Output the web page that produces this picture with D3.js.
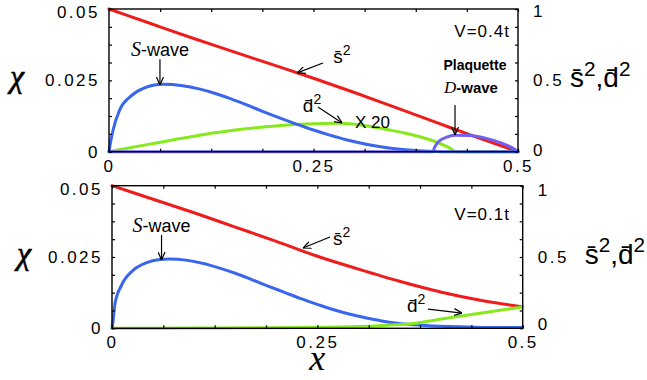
<!DOCTYPE html>
<html>
<head>
<meta charset="utf-8">
<script src="https://cdn.jsdelivr.net/npm/d3@7"></script>
<style>
body { margin: 0; background: #fff; }
svg { display: block; }
</style>
</head>
<body>
<div id="chart"></div>
<script>
// ---- data ----
var xTickVals = [0, 0.0625, 0.125, 0.1875, 0.25, 0.3125, 0.375, 0.4375, 0.5];
var xTickLabels = {"0": "0", "0.25": "0.25", "0.5": "0.5"};
var chiTickVals = [0, 0.00625, 0.0125, 0.01875, 0.025, 0.03125, 0.0375, 0.04375, 0.05];
var chiTickLabels = {"0": "0", "0.025": "0.025", "0.05": "0.05"};
var rTickVals = [0, 0.125, 0.25, 0.375, 0.5, 0.625, 0.75, 0.875, 1];
var rTickLabels = {"0": "0", "0.5": "0.5", "1": "1"};

// top panel, V=0.4t
var topRedX = [0, 0.05, 0.1, 0.15, 0.2, 0.25, 0.3, 0.35, 0.4, 0.45, 0.5];
var topRedS2 = [1, 0.9, 0.8, 0.705, 0.61, 0.515, 0.415, 0.31, 0.205, 0.1, 0];
var topBlueX = [0, 0.001, 0.005, 0.013, 0.026, 0.042, 0.066, 0.09, 0.11, 0.13, 0.15, 0.17, 0.19, 0.21, 0.23, 0.25, 0.27, 0.29, 0.31, 0.33, 0.35, 0.37, 0.39, 0.42, 0.46, 0.5];
var topBlueChi = [0, 0.0018, 0.0076, 0.0146, 0.0193, 0.0222, 0.0236, 0.0231, 0.022, 0.0204, 0.0184, 0.0162, 0.0139, 0.0117, 0.0096, 0.0076, 0.0058, 0.0042, 0.0029, 0.0018, 0.001, 0.0005, 0.0002, 0, 0, 0];
var topGreenX = [0, 0.05, 0.1, 0.15, 0.2, 0.233, 0.25, 0.28, 0.3, 0.32, 0.34, 0.36, 0.38, 0.4, 0.415, 0.425, 0.46, 0.5];
var topGreenD2x20 = [0, 0.053, 0.105, 0.148, 0.178, 0.192, 0.196, 0.199, 0.192, 0.176, 0.155, 0.133, 0.105, 0.068, 0.03, 0, 0, 0];
var topPurpleX = [0, 0.2, 0.396, 0.398, 0.4, 0.405, 0.412, 0.423, 0.44, 0.46, 0.48, 0.495, 0.5];
var topPurpleChi = [0, 0, 0, 0.0015, 0.0025, 0.004, 0.005, 0.00575, 0.00565, 0.00475, 0.003, 0.001, 0];

// bottom panel, V=0.1t
var botRedX = [0, 0.05, 0.1, 0.15, 0.2, 0.25, 0.3, 0.35, 0.4, 0.45, 0.5];
var botRedS2 = [1, 0.905, 0.81, 0.71, 0.61, 0.505, 0.415, 0.33, 0.255, 0.195, 0.15];
var botBlueX = [0, 0.001, 0.0037, 0.0118, 0.026, 0.042, 0.058, 0.07, 0.09, 0.11, 0.13, 0.15, 0.17, 0.19, 0.21, 0.23, 0.25, 0.27, 0.29, 0.31, 0.33, 0.35, 0.375, 0.41, 0.45, 0.5];
var botBlueChi = [0, 0.0018, 0.0088, 0.0152, 0.0204, 0.023, 0.0241, 0.0243, 0.0239, 0.0228, 0.0212, 0.0193, 0.0171, 0.0148, 0.0126, 0.0104, 0.0084, 0.0065, 0.0049, 0.0036, 0.0025, 0.0017, 0.0011, 0.0006, 0.0003, 0.0003];
var botGreenX = [0, 0.1, 0.2, 0.25, 0.3, 0.33, 0.367, 0.407, 0.448, 0.5];
var botGreenD2 = [0, 0.002, 0.004, 0.007, 0.012, 0.02, 0.034, 0.07, 0.105, 0.15];

var red = "#f01c1c", blue = "#3a66ee", green = "#88e81e", purple = "#7060f0";
var sans = "'Liberation Sans', Arial, sans-serif";
var serif = "'Liberation Serif', 'Times New Roman', serif";

var svg = d3.select("#chart").append("svg")
    .attr("width", 647)
    .attr("height", 380);

svg.append("defs").append("marker")
    .attr("id", "arr")
    .attr("viewBox", "0 -4 8 8")
    .attr("refX", 8).attr("refY", 0)
    .attr("markerWidth", 8).attr("markerHeight", 8)
    .attr("markerUnits", "userSpaceOnUse")
    .attr("orient", "auto")
  .append("path")
    .attr("d", "M0,-3.5L8,0L0,3.5")
    .attr("fill", "none")
    .attr("stroke", "#000")
    .attr("stroke-width", 1.2);

var panels = [
  {left: 109, top: 9, width: 409, height: 142.7, label: "V=0.4t",
   series: [
     {xs: topRedX, ys: topRedS2, axis: "R", color: red},
     {xs: topGreenX, ys: topGreenD2x20, axis: "R", color: green},
     {xs: topPurpleX, ys: topPurpleChi, axis: "L", color: purple},
     {xs: topBlueX, ys: topBlueChi, axis: "L", color: blue}
   ],
   // annotation positions in data units (x, fraction of height)
   swave: [0.0623, 0.67, 0.648, 0.467],
   s2: {t: [0.274, 0.621], a: [0.2616, 0.622, 0.23, 0.552]},
   d2: {t: [0.237, 0.278], a: [0.2555, 0.313, 0.285, 0.201]},
   vlab: [0.4902, 0.804]},
  {left: 112, top: 185.7, width: 410.7, height: 142.6, label: "V=0.1t",
   series: [
     {xs: botRedX, ys: botRedS2, axis: "R", color: red},
     {xs: botBlueX, ys: botBlueChi, axis: "L", color: blue},
     {xs: botGreenX, ys: botGreenD2, axis: "R", color: green}
   ],
   swave: [0.0603, 0.675, 0.654, 0.479],
   s2: {t: [0.269, 0.584], a: [0.2654, 0.640, 0.2325, 0.563]},
   d2: {t: [0.359, 0.114], a: [0.3847, 0.135, 0.4261, 0.107]},
   vlab: [0.4845, 0.759]}
];

function tickText(sel) {
  sel.selectAll("text")
    .attr("font-family", sans)
    .attr("font-size", 17)
    .attr("letter-spacing", 2.5)
    .attr("fill", "#000");
  sel.selectAll("line").attr("stroke", "#000").attr("stroke-width", 1.2);
  sel.select(".domain").remove();
}

function barLabel(g, x, y, size, parts) {
  var t = g.append("text")
      .attr("x", x).attr("y", y)
      .attr("font-family", sans)
      .attr("font-size", size)
      .attr("fill", "#000");
  parts.forEach(function(p) {
    var ts = t.append("tspan").text(p[0]);
    if (p[1]) ts.attr("font-size", size * 0.74).attr("dy", -size * 0.42);
    else if (p[2]) ts.attr("dy", size * 0.42);
  });
  return t;
}

panels.forEach(function(p, i) {
  var g = svg.append("g");
  var x = d3.scaleLinear().domain([0, 0.5]).range([p.left, p.left + p.width]);
  var yL = d3.scaleLinear().domain([0, 0.05]).range([p.top + p.height, p.top]);
  var yR = d3.scaleLinear().domain([0, 1]).range([p.top + p.height, p.top]);
  var bottom = p.top + p.height, right = p.left + p.width;

  // curves
  p.series.forEach(function(s) {
    var y = s.axis === "L" ? yL : yR;
    var line = d3.line()
        .x(function(d) { return x(d[0]); })
        .y(function(d) { return y(d[1]); })
        .curve(d3.curveMonotoneX);
    g.append("path")
        .datum(s.xs.map(function(v, k) { return [v, s.ys[k]]; }))
        .attr("d", line)
        .attr("fill", "none")
        .attr("stroke", s.color)
        .attr("stroke-width", 3)
        .attr("stroke-linecap", "round");
  });

  // frame
  g.append("rect")
      .attr("x", p.left).attr("y", p.top)
      .attr("width", p.width).attr("height", p.height)
      .attr("fill", "none").attr("stroke", "#000").attr("stroke-width", 1.4);

  // axes, ticks pointing inward
  g.append("g").attr("transform", "translate(0," + bottom + ")")
      .call(d3.axisBottom(x).tickValues(xTickVals).tickSizeInner(-3).tickSizeOuter(0).tickPadding(8)
        .tickFormat(function(d) { return xTickLabels[d] || ""; }))
      .call(tickText);
  g.append("g").attr("transform", "translate(0," + p.top + ")")
      .call(d3.axisTop(x).tickValues(xTickVals).tickSizeInner(-3).tickSizeOuter(0).tickFormat(""))
      .call(tickText);
  var la = g.append("g").attr("transform", "translate(" + p.left + ",0)")
      .call(d3.axisLeft(yL).tickValues(chiTickVals).tickSizeInner(-3).tickSizeOuter(0).tickPadding(9)
        .tickFormat(function(d) { return chiTickLabels[d] || ""; }))
      .call(tickText);
  la.selectAll("text").filter(function(d) { return d === 0.05; }).attr("y", 3);
  var ra = g.append("g").attr("transform", "translate(" + right + ",0)")
      .call(d3.axisRight(yR).tickValues(rTickVals).tickSizeInner(-3).tickSizeOuter(0).tickPadding(15)
        .tickFormat(function(d) { return rTickLabels[d] || ""; }))
      .call(tickText);
  ra.selectAll("text").filter(function(d) { return d === 1; }).attr("y", 2 + i * 2);
  ra.selectAll("text").filter(function(d) { return d === 0; }).attr("y", -2 - i * 2);

  // axis titles
  g.append("text")
      .attr("x", p.left - 92 + i * 4).attr("y", yR(0.45))
      .attr("font-family", serif).attr("font-style", "italic")
      .attr("font-size", 32).attr("text-anchor", "middle")
      .attr("stroke", "#000").attr("stroke-width", 0.6)
      .text("\u03C7");
  barLabel(g, right + 52 + i * 10, yR(0.45), 28,
      [["s\u0304"], ["2", true], [",", false, true], ["d\u0304"], ["2", true]]);

  // panel label
  g.append("text")
      .attr("x", x(p.vlab[0])).attr("y", yR(p.vlab[1]))
      .attr("font-family", sans).attr("font-size", 17).attr("letter-spacing", 1)
      .attr("text-anchor", "end")
      .text(p.label);

  // S-wave annotation
  var sw = g.append("text")
      .attr("x", x(p.swave[0])).attr("y", yR(p.swave[1]))
      .attr("font-family", sans).attr("font-size", 18).attr("text-anchor", "middle");
  sw.append("tspan").attr("font-family", serif).attr("font-style", "italic").attr("font-size", 20).text("S");
  sw.append("tspan").text("-wave");
  g.append("line")
      .attr("x1", x(p.swave[0])).attr("y1", yR(p.swave[2]))
      .attr("x2", x(p.swave[0])).attr("y2", yR(p.swave[3]))
      .attr("stroke", "#000").attr("stroke-width", 1.2).attr("marker-end", "url(#arr)");

  // s-bar and d-bar annotations
  barLabel(g, x(p.s2.t[0]), yR(p.s2.t[1]), 19, [["s\u0304"], ["2", true]]);
  g.append("line")
      .attr("x1", x(p.s2.a[0])).attr("y1", yR(p.s2.a[1]))
      .attr("x2", x(p.s2.a[2])).attr("y2", yR(p.s2.a[3]))
      .attr("stroke", "#000").attr("stroke-width", 1.2).attr("marker-end", "url(#arr)");
  barLabel(g, x(p.d2.t[0]), yR(p.d2.t[1]), 19, [["d\u0304"], ["2", true]]);
  g.append("line")
      .attr("x1", x(p.d2.a[0])).attr("y1", yR(p.d2.a[1]))
      .attr("x2", x(p.d2.a[2])).attr("y2", yR(p.d2.a[3]))
      .attr("stroke", "#000").attr("stroke-width", 1.2).attr("marker-end", "url(#arr)");

  if (i === 0) {
    g.append("text")
        .attr("x", x(0.3007)).attr("y", yR(0.166))
        .attr("font-family", sans).attr("font-size", 17)
        .text("X 20");
    g.append("text")
        .attr("x", x(0.4474)).attr("y", yR(0.575))
        .attr("font-family", sans).attr("font-size", 14).attr("font-weight", "bold")
        .attr("text-anchor", "middle")
        .text("Plaquette");
    var dw = g.append("text")
        .attr("x", x(0.4425)).attr("y", yR(0.411))
        .attr("font-family", sans).attr("font-size", 15).attr("font-weight", "bold")
        .attr("text-anchor", "middle");
    dw.append("tspan").attr("font-family", serif).attr("font-style", "italic").attr("font-weight", "normal").attr("font-size", 17).text("D");
    dw.append("tspan").text("-wave");
    g.append("line")
        .attr("x1", x(0.423)).attr("y1", yR(0.327))
        .attr("x2", x(0.423)).attr("y2", yR(0.117))
        .attr("stroke", "#000").attr("stroke-width", 1.2).attr("marker-end", "url(#arr)");
  } else {
    g.append("text")
        .attr("x", x(0.25)).attr("y", bottom + 42)
        .attr("font-family", serif).attr("font-style", "italic")
        .attr("font-size", 36).attr("text-anchor", "middle")
        .text("x");
  }
});
</script>
</body>
</html>
